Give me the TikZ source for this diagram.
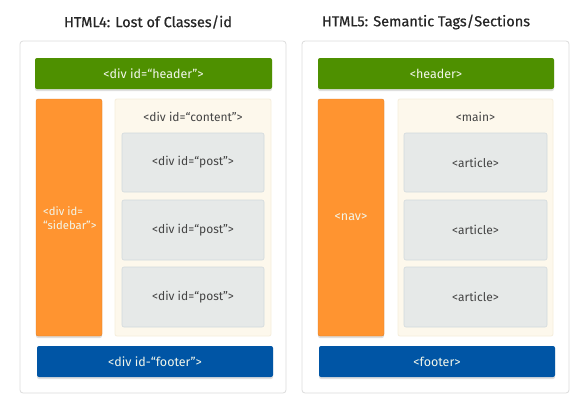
\documentclass[tikz,border=0pt]{standalone}
\usepackage{fontspec}
\setmainfont{Fira Sans}
\usetikzlibrary{shadows}
\definecolor{hgreen}{HTML}{4E9000}
\definecolor{sorange}{HTML}{FF9430}
\definecolor{fblue}{HTML}{0055A5}
\definecolor{cream}{HTML}{FDF8EC}
\definecolor{creamline}{HTML}{F6EEDC}
\definecolor{postgray}{HTML}{E6E9E8}
\definecolor{postline}{HTML}{D2DADD}
\definecolor{outline}{HTML}{DCDCDC}
\definecolor{txt}{HTML}{444444}
\definecolor{lighttxt}{HTML}{F2F6EA}
\tikzset{
  panel/.style={draw=outline, fill=white, rounded corners=3pt, line width=0.8pt, inner sep=0pt},
  bar/.style={rounded corners=2pt, inner sep=0pt, text=lighttxt, font=\fontsize{12.5}{14}\selectfont,
    drop shadow={opacity=0.25, shadow xshift=0pt, shadow yshift=-2pt}},
  greenbar/.style={bar, fill=hgreen},
  bluebar/.style={bar, fill=fblue},
  side/.style={bar, fill=sorange, draw=sorange!85!black, line width=0.3pt},
  contentbox/.style={fill=cream, draw=creamline, rounded corners=2pt, line width=0.8pt, inner sep=0pt},
  postbox/.style={fill=postgray, draw=postline, rounded corners=2pt, line width=0.6pt, inner sep=0pt,
    text=txt, font=\fontsize{12}{14}\selectfont},
  lbl/.style={text=txt, font=\fontsize{12}{14}\selectfont, inner sep=0pt},
  ttl/.style={text=black!85, font=\fontsize{14.5}{16}\selectfont\addfontfeatures{FakeBold=0.6}, inner sep=0pt},
}
\begin{document}
\begin{tikzpicture}[x=1pt,y=-1pt]
\useasboundingbox (0,0) rectangle (580,400);
% titles
\node[ttl] (t4) at (148,22) {HTML4: Lost of Classes/id};
\node[ttl] (t5) at (426,22) {HTML5: Semantic Tags/Sections};
% left panel
\node[panel, minimum width=266pt, minimum height=352pt] (lp) at (153,217) {};
\node[greenbar, minimum width=237pt, minimum height=31pt] (lh) at (153.5,73.5) {<div id=“header”>};
\node[side, minimum width=66pt, minimum height=237pt] (ls) at (69,217.5) {};
\node[text=lighttxt, font=\fontsize{11.3}{14.5}\selectfont, align=left, anchor=west, inner sep=0pt] (lsl) at (43,218) {<div id=\\“sidebar”>};
\node[contentbox, minimum width=156pt, minimum height=237pt] (lc) at (193,217.5) {};
\node[lbl] (lcl) at (193,117) {<div id=“content”>};
\node[postbox, minimum width=142pt, minimum height=59pt] (lp1) at (193,162.5) {<div id=“post”>};
\node[postbox, minimum width=142pt, minimum height=60pt] (lp2) at (193,230) {<div id=“post”>};
\node[postbox, minimum width=142pt, minimum height=60pt] (lp3) at (193,297) {<div id=“post”>};
\node[bluebar, minimum width=236pt, minimum height=31pt] (lf) at (155,361.5) {<div id-“footer”>};
% right panel
\node[panel, minimum width=267pt, minimum height=352pt] (rp) at (435.5,217) {};
\node[greenbar, minimum width=236pt, minimum height=31pt] (rh) at (436,73.5) {<header>};
\node[side, minimum width=66pt, minimum height=237pt] (rn) at (351,217.5) {<nav>};
\node[contentbox, minimum width=155pt, minimum height=237pt] (rm) at (475.5,217.5) {};
\node[lbl] (rml) at (475.5,117) {<main>};
\node[postbox, minimum width=143pt, minimum height=59pt] (ra1) at (475.5,162.5) {<article>};
\node[postbox, minimum width=143pt, minimum height=60pt] (ra2) at (475.5,230) {<article>};
\node[postbox, minimum width=143pt, minimum height=60pt] (ra3) at (475.5,297) {<article>};
\node[bluebar, minimum width=236pt, minimum height=31pt] (rf) at (437,361.5) {<footer>};
\end{tikzpicture}
\end{document}
